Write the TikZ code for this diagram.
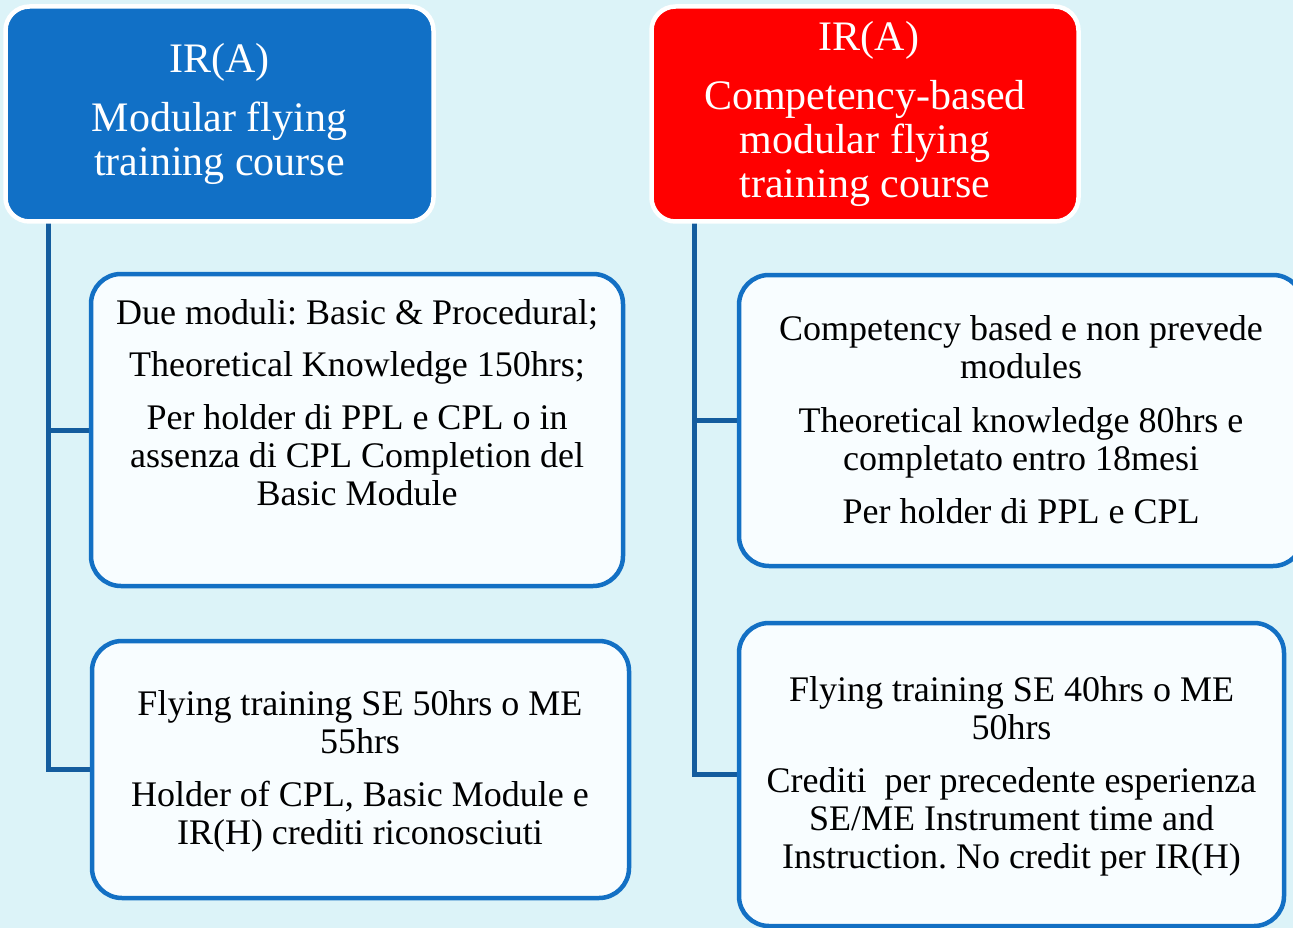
\documentclass[tikz,border=0pt]{standalone}
\usepackage{fontspec}
\setmainfont{Liberation Serif}
\frenchspacing
\definecolor{bgc}{HTML}{DCF3F8}
\definecolor{hdblue}{HTML}{1170C6}
\definecolor{hdred}{HTML}{FF0000}
\definecolor{bord}{HTML}{1370C4}
\definecolor{connc}{HTML}{145C9E}
\definecolor{boxfill}{HTML}{F8FDFF}
\pgfdeclarelayer{back}
\pgfsetlayers{back,main}
\begin{document}
\begin{tikzpicture}[x=1pt,y=-1pt,
  head/.style={draw=white, line width=4.5pt, rounded corners=24pt, inner sep=0pt,
    text=white, align=center, font=\fontsize{42}{44}\selectfont\frenchspacing},
  card/.style={draw=bord, fill=boxfill, line width=4.5pt, rounded corners=30pt, inner sep=0pt},
  body/.style={text=black, align=center, font=\fontsize{36}{38}\selectfont\frenchspacing, inner sep=0pt, anchor=north},
  link/.style={draw=connc, line width=5pt}]
\useasboundingbox (0,0) rectangle (1293,928);

% header boxes
\node[head, fill=hdblue, minimum width=428pt, minimum height=215pt] (lt) at (219.5,114)
  {IR(A)\\[15pt]Modular flying\\training course};
\node[head, fill=hdred, minimum width=427pt, minimum height=215pt] (rt) at (865,114)
  {\hspace*{8pt}IR(A)\\[15pt]Competency-based\\modular flying\\training course};

% cards
\node[card, minimum width=532pt, minimum height=312pt] (lb1) at (357,430) {};
\node[card, minimum width=537pt, minimum height=257pt] (lb2) at (360.5,769.5) {};
\node[card, minimum width=564pt, minimum height=291pt] (rb1) at (1021,420.5) {};
\node[card, minimum width=545pt, minimum height=303pt] (rb2) at (1011.5,774.5) {};

% card texts
\node[body] (lb1t) at (357,299) {Due moduli: Basic \& Procedural;\\[14pt]Theoretical Knowledge 150hrs;\\[15pt]Per holder di PPL e CPL o in\\assenza di CPL Completion del\\Basic Module};
\node[body] (lb2t) at (360,690) {Flying training SE 50hrs o ME\\55hrs\\[15pt]Holder of CPL, Basic Module e\\IR(H) crediti riconosciuti};
\node[body] (rb1t) at (1021,315) {Competency based e non prevede\\modules\\[16pt]Theoretical knowledge 80hrs e\\completato entro 18mesi\\[15pt]Per holder di PPL e CPL};
\node[body] (rb2t) at (1011.5,676) {Flying training SE 40hrs o ME\\50hrs\\[15pt]Crediti \ per precedente esperienza\\SE/ME Instrument time and\\Instruction. No credit per IR(H)};

% connectors
\coordinate (lstart) at (48,218);
\coordinate (rstart) at (694,218);
\begin{pgfonlayer}{back}
  \fill[bgc] (0,0) rectangle (1293,928);
  \draw[link] (lstart) |- (lb2.west);
  \draw[link] (lstart |- lb1.west) -- (lb1.west);
  \draw[link] (rstart) |- (rb2.west);
  \draw[link] (rstart |- rb1.west) -- (rb1.west);
\end{pgfonlayer}
\end{tikzpicture}
\end{document}
